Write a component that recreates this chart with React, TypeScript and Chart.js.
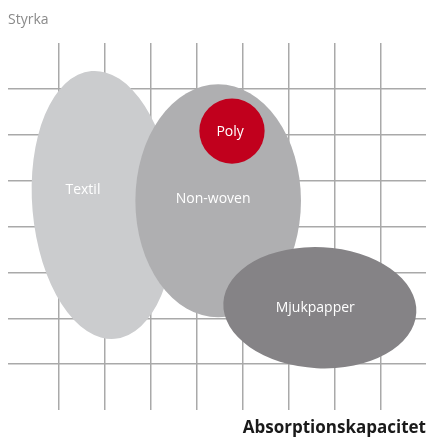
import React, { useEffect, useRef } from "react";
import { Chart, registerables } from "chart.js";

Chart.register(...registerables);

// Categories (materials) and their regions, in axis units (Absorptionskapacitet x, Styrka y)
const categories = ["Textil", "Non-woven", "Poly", "Mjukpapper"];
const centerX = [1.96, 4.46, 4.76, 6.67];
const centerY = [4.47, 4.56, 6.08, 2.23];
const radiusX = [1.54, 1.8, 0.71, 2.1];
const radiusY = [2.93, 2.54, 0.71, 1.32];
const tiltDeg = [-5, 0, 0, 3];
const labelX = [1.52, 4.35, 4.72, 6.57];
const labelY = [4.8, 4.6, 6.07, 2.23];
const fillColors = ["#cbccce", "#afafb1", "#c1001d", "#858386"];

const xTicks = [1, 2, 3, 4, 5, 6, 7, 8];
const yTicks = [1, 2, 3, 4, 5, 6, 7];
const xTitle = "Absorptionskapacitet";
const yTitle = "Styrka";

const FONT = "'Open Sans', 'DejaVu Sans', sans-serif";

const regionsPlugin = {
  id: "regions",
  afterDatasetsDraw(chart: any) {
    const ctx = chart.ctx;
    const xs = chart.scales.x;
    const ys = chart.scales.y;
    const unitX = Math.abs(xs.getPixelForValue(1) - xs.getPixelForValue(0));
    const unitY = Math.abs(ys.getPixelForValue(1) - ys.getPixelForValue(0));
    ctx.save();
    categories.forEach((c, i) => {
      ctx.beginPath();
      ctx.ellipse(
        xs.getPixelForValue(centerX[i]),
        ys.getPixelForValue(centerY[i]),
        radiusX[i] * unitX,
        radiusY[i] * unitY,
        (tiltDeg[i] * Math.PI) / 180,
        0,
        Math.PI * 2
      );
      ctx.fillStyle = fillColors[i];
      ctx.fill();
    });
    ctx.fillStyle = "#ffffff";
    ctx.font = `14px ${FONT}`;
    ctx.textAlign = "center";
    ctx.textBaseline = "middle";
    categories.forEach((c, i) => {
      ctx.fillText(c, xs.getPixelForValue(labelX[i]), ys.getPixelForValue(labelY[i]));
    });
    // axis titles
    ctx.fillStyle = "#8a8a8a";
    ctx.font = `14px ${FONT}`;
    ctx.textAlign = "left";
    ctx.textBaseline = "alphabetic";
    ctx.fillText(yTitle, 8, 24);
    ctx.fillStyle = "#1a1a1a";
    ctx.font = `bold 17px ${FONT}`;
    ctx.textAlign = "right";
    ctx.fillText(xTitle, 426, 433);
    ctx.restore();
  },
};

export default function App() {
  const ref = useRef<HTMLCanvasElement>(null);
  useEffect(() => {
    if (!ref.current) return;
    const chart = new Chart(ref.current, {
      type: "scatter",
      data: {
        datasets: [
          {
            label: "centres",
            data: categories.map((_, i) => ({ x: centerX[i], y: centerY[i] })),
            pointRadius: 0,
            pointHoverRadius: 0,
          },
        ],
      },
      options: {
        responsive: false,
        animation: false,
        layout: { padding: { left: 8, right: 3, top: 43, bottom: 30 } },
        plugins: { legend: { display: false }, tooltip: { enabled: false }, title: { display: false } },
        scales: {
          x: {
            type: "linear",
            min: -0.109,
            max: 8.978,
            afterBuildTicks: (s: any) => {
              s.ticks = xTicks.map((v) => ({ value: v }));
            },
            ticks: { display: false },
            border: { display: false },
            grid: { color: "#a9a9a9", lineWidth: 1.5, drawTicks: false },
          },
          y: {
            type: "linear",
            min: 0,
            max: 8,
            afterBuildTicks: (s: any) => {
              s.ticks = yTicks.map((v) => ({ value: v }));
            },
            ticks: { display: false },
            border: { display: false },
            grid: { color: "#a9a9a9", lineWidth: 1.5, drawTicks: false },
          },
        },
      },
      plugins: [regionsPlugin],
    });
    return () => chart.destroy();
  }, []);
  return (
    <div style={{ position: "absolute", left: 0, top: 0, width: 429, height: 440 }}>
      <canvas ref={ref} width={429} height={440} />
    </div>
  );
}
